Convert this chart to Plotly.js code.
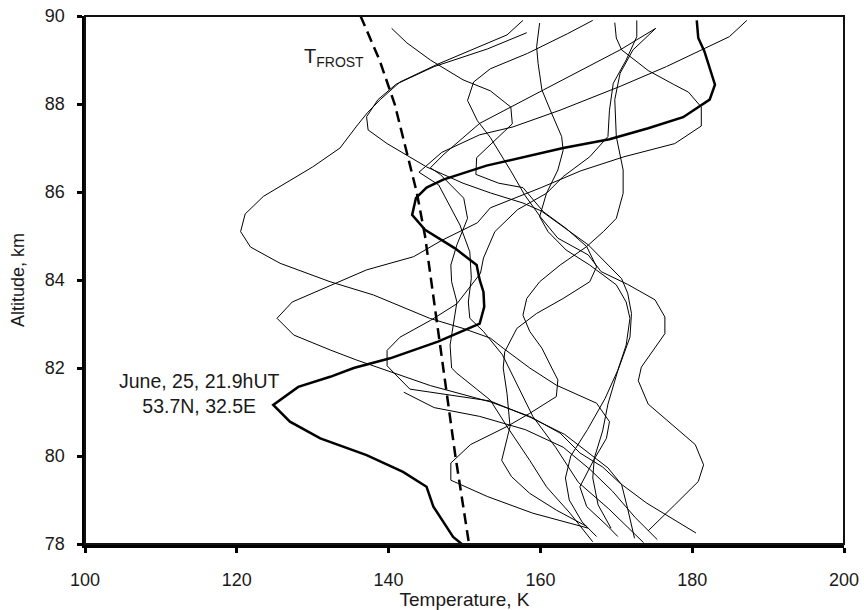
<!DOCTYPE html>
<html>
<head>
<meta charset="utf-8">
<script src="https://cdn.plot.ly/plotly-3.0.1.min.js"></script>
<style>html,body{margin:0;padding:0;background:#fff;}#chart{width:864px;height:610px;}</style>
</head>
<body>
<div id="chart"></div>
<script>
// Frost point temperature profile [T (K), altitude (km)]
const frostT   = [136.3, 138.8, 140.8, 142.3, 143.7, 144.8, 145.6, 146.4, 147.2, 148.0, 148.8, 149.7, 150.6];
const frostAlt = [90, 89, 88, 87, 86, 85, 84, 83, 82, 81, 80, 79, 78];

// Highlighted profile: June 25, 21.9 hUT, 53.7N 32.5E
const mainProfile = [[180.6,89.9],[180.8,89.5],[181.6,89.2],[183.0,88.44],[182.3,88.1],[181.2,87.98],[178.8,87.7],[174.2,87.45],[169.1,87.2],[163.0,87.0],[157.3,86.77],[152.9,86.6],[147.2,86.28],[145.0,86.1],[143.6,85.86],[143.1,85.48],[144.8,85.14],[148.75,84.72],[151.6,84.34],[152.0,84.0],[152.5,83.73],[152.6,83.39],[152.0,83.01],[149.0,82.79],[146.5,82.6],[140.2,82.22],[135.4,82.0],[132.3,81.8],[128.1,81.57],[124.8,81.16],[127.0,80.78],[131.0,80.4],[137.1,80.02],[141.9,79.64],[145.0,79.3],[145.9,78.85],[148.5,78.16],[150.0,77.95]];

// Other lidar temperature profiles [T (K), altitude (km)]
const profileA = [[157.7,89.9],[155.6,89.57],[146.4,88.9],[141.5,88.5],[138.9,88.1],[137.2,87.8],[135.8,87.5],[133.6,87.0],[130,86.57],[126.5,86.2],[123.5,85.9],[121.1,85.5],[120.5,85.1],[121.8,84.75],[125.7,84.38],[132.3,83.96],[138,83.66],[145.4,83.13],[149.8,82.9],[153.4,82.68],[155.1,82.45],[158.6,82.0],[162.1,81.61],[167.4,81.2],[169.1,80.78],[168.7,80.4],[167,79.9],[165.2,79.3],[166.1,78.85],[168.9,78.4],[170.2,78.17]];
const profileB = [[158.2,89.62],[153,89.25],[146,88.85],[141,88.45],[138.6,88.1],[137.1,87.71],[137.3,87.41],[139.8,87.1],[145,86.57],[149.8,86.2],[153.4,85.98],[157.7,85.75],[160.1,85.57],[166.3,84.8],[170.7,84.03],[171.5,83.7],[172,83.24],[171.8,82.7],[170.2,81.94],[168.9,81.18],[168.2,80.57],[167.1,79.95],[166.9,79.5],[167.6,78.89],[169.3,78.36]];
const profileC = [[140.4,89.72],[142.4,89.39],[145.5,89.0],[149.8,88.55],[153.4,88.3],[156.1,87.93],[156.3,87.55],[151.6,86.78],[151.5,86.4],[154.5,86.2],[157.7,86.1],[160.4,85.55],[163.4,85.17],[166.1,84.76],[167.4,84.3],[166.5,83.96],[163,83.58],[159.5,83.24],[156.9,82.9],[155.3,82.37],[155.1,82.0],[155.6,81.42],[156,80.67],[154.9,79.9],[156.2,79.53],[158.6,79.15],[162.1,78.77],[166.1,78.4]];
const profileD = [[159.9,89.84],[159.5,89.3],[159.7,88.92],[160.2,88.32],[161.3,87.86],[162.8,87.26],[163,86.95],[162.3,86.5],[160.8,85.97],[159.9,85.44],[161,85.1],[163.4,84.68],[166.5,84.34],[170,83.89],[171.3,83.5],[171.8,83.13],[171.3,82.52],[170.2,81.95],[168.5,81.3],[166.2,80.6],[164,80.0],[163.3,79.5],[163.8,79.0],[165.5,78.5],[167.4,78.17]];
const profileE = [[166.9,89.9],[163.6,89.6],[158.3,89.15],[153.4,88.8],[151.2,88.5],[150.4,88.08],[151.7,87.62],[153.4,87.24],[156.1,86.48],[157.9,85.94],[160.1,85.41],[162.3,84.95],[166.3,84.57],[168,84.19],[171.5,83.9],[175.1,83.55],[176.4,83.16],[176.4,82.78],[173.3,82.02],[172.9,81.71],[174.2,81.18],[177.3,80.72],[180.4,80.26],[181.5,79.8],[180.8,79.42],[177.7,78.89],[174.2,78.3]];
const profileF = [[169.8,89.85],[170,89.5],[170.7,89.23],[174.2,88.76],[177.5,88.45],[179.5,88.27],[181.2,87.93],[181.2,87.5],[177.7,87.1],[171,86.8],[165.3,86.48],[160.1,86.1],[153.4,85.64],[151.7,85.3],[147,84.9],[143.3,84.53],[137.1,84.23],[131,83.77],[127.3,83.5],[125.3,83.13],[127.5,82.75],[132.3,82.41],[135.8,82.18],[145.5,81.6],[153.4,81.23],[158.6,80.9],[162.6,80.52],[165.2,80.07],[168.2,79.75],[170.5,79.38],[174,78.93],[180.5,78.25]];
const profileG = [[172.7,89.9],[172.7,89.53],[171.3,89.0],[169.6,88.47],[169.1,87.86],[168.9,87.26],[166.5,86.8],[163,86.35],[160.8,85.97],[157,85.6],[154,85.1],[152.5,84.5],[152.1,84.15],[149,83.46],[145.5,83.08],[141.5,82.7],[139.8,82.4],[139.8,82.05],[142.8,81.52],[153.4,81.25],[158.8,80.87],[163.2,80.49],[168.9,79.73],[170.7,79.35],[171.5,78.8],[172.4,78.13]];
const profileH = [[175.2,89.72],[172.2,89.23],[170.5,88.7],[169.8,88.1],[170,87.26],[170.9,86.5],[170.9,85.97],[170,85.4],[168.3,85.1],[166.1,84.76],[162.6,84.34],[159.9,83.96],[158.2,83.58],[157.7,83.2],[158.6,82.83],[160.2,82.45],[161.5,82.0],[162.3,81.73],[162.1,81.35],[158.6,80.97],[155.6,80.67],[152,80.36],[150.8,80.26],[148.2,79.84],[148.2,79.45],[153,79.08],[159,78.7],[166.3,78.36]];
const profileJ = [[175.2,89.72],[170.5,89.23],[160.4,88.32],[152,87.56],[147.3,86.86],[145.5,86.55],[146.8,86.4],[149.9,85.86],[150.4,85.4],[149,84.8],[148.2,84.34],[148.3,83.96],[149,83.5],[148.5,82.98],[148.1,82.52],[148.3,82.0],[149,81.88],[153.4,81.27],[155.6,80.67],[158.6,79.9],[160.8,79.3],[163.9,78.7],[166.9,78.05]];
const profileI = [[187.2,89.9],[184.9,89.53],[176.6,88.85],[170.5,88.4],[162.6,87.86],[156.4,87.48],[152,87.3],[147,86.9],[144,86.45],[146.6,86.16],[149.4,85.25],[150.7,84.64],[150.9,84.04],[150.5,83.5],[150.7,83.13],[152.5,82.83],[155,82.3],[157,81.6],[159,80.9],[162,80.2],[165,79.4],[169,78.8],[173.6,78.03]];
const profileM = [[142,81.45],[146,81.1],[152,80.9],[158,80.6],[163,80.2],[166.5,79.7],[169.5,79.2],[172.5,78.6],[175.4,78.1]];

const thinProfiles = [profileA, profileB, profileC, profileD, profileE, profileF, profileG, profileH, profileJ, profileI, profileM];

const xTicks = [100, 120, 140, 160, 180, 200];
const yTicks = [78, 80, 82, 84, 86, 88, 90];

const traces = [];
thinProfiles.forEach(p => {
  traces.push({
    x: p.map(d => d[0]), y: p.map(d => d[1]),
    type: 'scatter', mode: 'lines', showlegend: false, hoverinfo: 'skip',
    line: {color: '#000', width: 1}
  });
});
traces.push({
  x: frostT, y: frostAlt, type: 'scatter', mode: 'lines', showlegend: false,
  line: {color: '#000', width: 2.5, dash: '11px,6px'}
});
traces.push({
  x: mainProfile.map(d => d[0]), y: mainProfile.map(d => d[1]),
  type: 'scatter', mode: 'lines', showlegend: false,
  line: {color: '#000', width: 2.5}
});

const font = {family: 'Arial, "Liberation Sans", sans-serif', color: '#1a1a1a'};

const layout = {
  width: 864, height: 610,
  margin: {l: 85, r: 20, t: 16, b: 66},
  paper_bgcolor: '#fff', plot_bgcolor: '#fff',
  showlegend: false,
  font: Object.assign({size: 18}, font),
  xaxis: {
    range: [100, 200], tickvals: xTicks, ticktext: xTicks.map(String),
    showgrid: false, zeroline: false,
    showline: true, linecolor: '#000', linewidth: 3.5,
    ticks: 'outside', ticklen: 5, tickwidth: 3, tickcolor: '#000',
    ticklabelstandoff: 12,
    tickfont: Object.assign({size: 18}, font),
    title: {text: 'Temperature, K', font: Object.assign({size: 19}, font), standoff: 3}
  },
  yaxis: {
    range: [78, 90], tickvals: yTicks, ticktext: yTicks.map(String),
    showgrid: false, zeroline: false,
    showline: true, linecolor: '#000', linewidth: 3.5,
    ticks: 'outside', ticklen: 5, tickwidth: 3, tickcolor: '#000',
    ticklabelstandoff: 8,
    tickfont: Object.assign({size: 18}, font),
    title: {text: 'Altitude, km', font: Object.assign({size: 18}, font), standoff: 16}
  },
  shapes: [{
    type: 'rect', xref: 'paper', yref: 'paper', x0: 0, x1: 1, y0: 0, y1: 1,
    line: {color: '#111', width: 2}, layer: 'above'
  }],
  annotations: [
    {x: 137.0, y: 89.05, xref: 'x', yref: 'y', xanchor: 'right', yanchor: 'middle',
     text: 'T<sub>FROST</sub>', showarrow: false, font: Object.assign({size: 20}, font)},
    {x: 126.0, y: 81.41, xref: 'x', yref: 'y', xanchor: 'right', yanchor: 'middle', align: 'center',
     text: 'June, 25, 21.9hUT<br>53.7N, 32.5E', showarrow: false, font: Object.assign({size: 19.5}, font)}
  ]
};

Plotly.newPlot('chart', traces, layout, {staticPlot: true, displayModeBar: false});
</script>
</body>
</html>
